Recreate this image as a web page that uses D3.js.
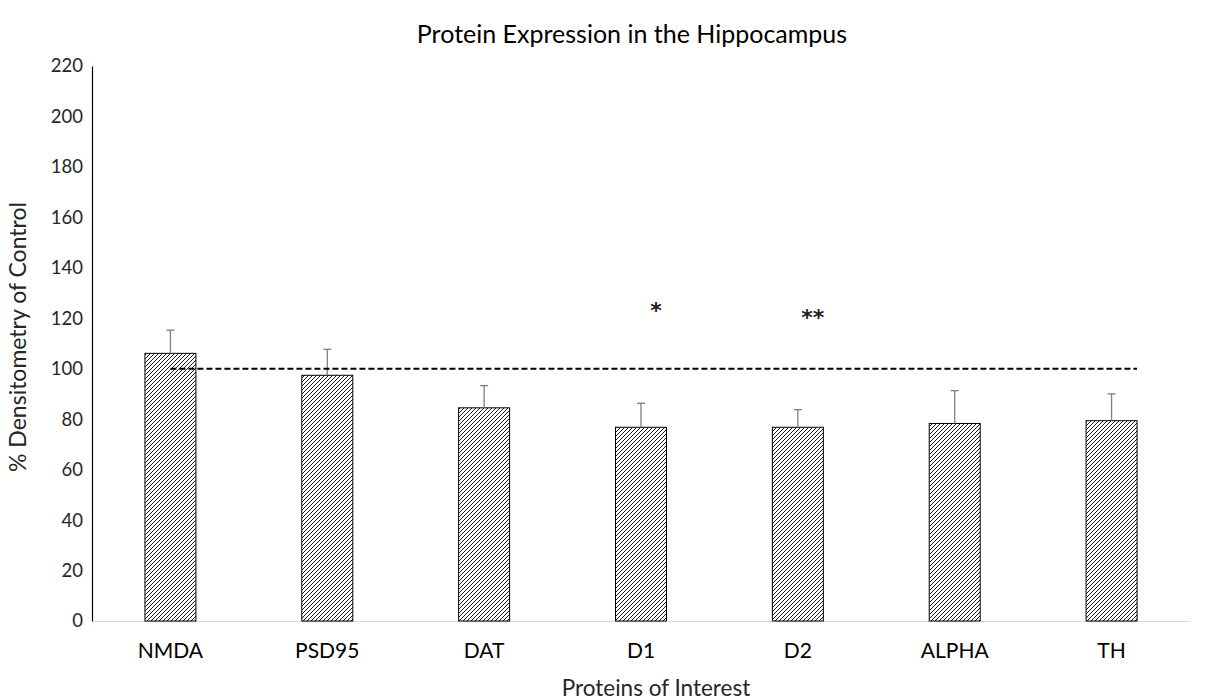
<!DOCTYPE html>
<html><head><meta charset="utf-8">
<script src="https://cdn.jsdelivr.net/npm/d3@7"></script>
<style>body{margin:0;background:#fff}</style>
</head><body>
<svg id="c" width="1225" height="700"></svg>
<script>
const categories = ["NMDA","PSD95","DAT","D1","D2","ALPHA","TH"];
const values = [106.1, 97.4, 84.5, 76.8, 76.8, 78.3, 79.4];
const errorsUp = [9.2, 10.3, 8.8, 9.5, 7.0, 13.0, 10.6];
const significance = ["", "", "", "*", "**", "", ""];
const sigHeights = [0, 0, 0, 125, 122, 0, 0];
const controlLevel = 100;
const yTicks = [0,20,40,60,80,100,120,140,160,180,200,220];

const font = "Lato, 'Liberation Sans', sans-serif";
const svg = d3.select("#c");
const m = {l:92, r:1190, t:66, b:621};
const x = d3.scaleBand().domain(categories).range([m.l, m.r]).paddingInner(0.675).paddingOuter(0.3375);
const y = d3.scaleLinear().domain([0,220]).range([m.b, m.t]);

const defs = svg.append("defs");
const pat = defs.append("pattern").attr("id","hatch").attr("patternUnits","userSpaceOnUse")
  .attr("width",4).attr("height",4);
pat.append("rect").attr("width",4).attr("height",4).attr("fill","#fff");
pat.append("path").attr("d","M-1,1 l2,-2 M0,4 l4,-4 M3,5 l2,-2").attr("stroke","#000").attr("stroke-width",0.9);

// title
svg.append("text").attr("x",632).attr("y",43).attr("text-anchor","middle")
  .attr("font-family",font).attr("font-size",25).attr("fill","#000").text("Protein Expression in the Hippocampus");

// y axis
const yAxis = d3.axisLeft(y).tickValues(yTicks).tickSize(0).tickPadding(9);
const ga = svg.append("g").attr("transform",`translate(${m.l},0)`).call(yAxis);
ga.select(".domain").attr("stroke","#000").attr("stroke-width",1.2);
ga.selectAll("text").attr("font-family",font).attr("font-size",18.5).attr("fill","#262626");

// x axis
const xAxis = d3.axisBottom(x).tickSize(0).tickPadding(22);
const gx = svg.append("g").attr("transform",`translate(0,${m.b})`).call(xAxis);
gx.select(".domain").attr("stroke","#d9d9d9").attr("stroke-width",1.2);
gx.selectAll("text").attr("font-family",font).attr("font-size",21).attr("fill","#000");

// axis titles
svg.append("text").attr("x",656).attr("y",696).attr("text-anchor","middle")
  .attr("font-family",font).attr("font-size",22.5).attr("fill","#262626").text("Proteins of Interest");
svg.append("text").attr("transform",`translate(26,${337}) rotate(-90)`).attr("text-anchor","middle")
  .attr("font-family",font).attr("font-size",23).attr("fill","#262626").text("% Densitometry of Control");

// bars
svg.append("g").selectAll("rect").data(categories).join("rect")
  .attr("x",d=>x(d)).attr("width",x.bandwidth())
  .attr("y",(d,i)=>y(values[i])).attr("height",(d,i)=>y(0)-y(values[i]))
  .attr("fill","url(#hatch)").attr("stroke","#000").attr("stroke-width",1);

// error bars
const eg = svg.append("g").attr("stroke","#7f7f7f").attr("stroke-width",1.3);
categories.forEach((c,i)=>{
  const cx = x(c)+x.bandwidth()/2;
  eg.append("line").attr("x1",cx).attr("x2",cx).attr("y1",y(values[i])).attr("y2",y(values[i]+errorsUp[i]));
  eg.append("line").attr("x1",cx-4).attr("x2",cx+4).attr("y1",y(values[i]+errorsUp[i])).attr("y2",y(values[i]+errorsUp[i]));
});

// control dashed line
const x0 = x(categories[0])+x.bandwidth()/2;
const x1 = x(categories[categories.length-1])+x.bandwidth();
svg.append("line").attr("x1",x0).attr("x2",x1).attr("y1",y(controlLevel)).attr("y2",y(controlLevel))
  .attr("stroke","#000").attr("stroke-width",2).attr("stroke-dasharray","6,3");

// significance
svg.append("g").selectAll("text").data(categories).join("text")
  .attr("x",d=>x(d)+x.bandwidth()/2+15).attr("y",(d,i)=>y(sigHeights[i])+12)
  .attr("text-anchor","middle").attr("font-family","'DejaVu Sans', sans-serif").attr("font-size",22)
  .attr("font-weight","bold").attr("letter-spacing",0).attr("fill","#222")
  .text((d,i)=>significance[i]);
</script>
</body></html>
